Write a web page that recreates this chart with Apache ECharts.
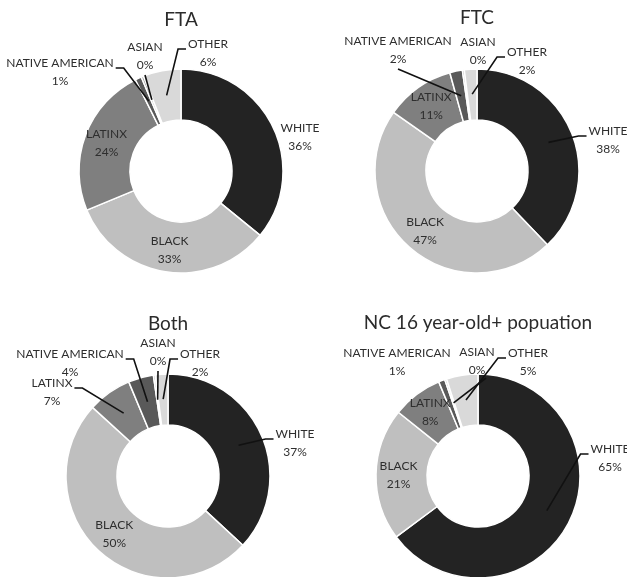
<!DOCTYPE html>
<html>
<head>
<meta charset="utf-8">
<script src="https://cdn.jsdelivr.net/npm/echarts@6.0.0/dist/echarts.min.js"></script>
<style>
  html, body { margin: 0; padding: 0; background: #fff; }
  #chart { width: 627px; height: 577px; }
</style>
</head>
<body>
<div id="chart"></div>
<script>
const groups = ['WHITE', 'BLACK', 'LATINX', 'NATIVE AMERICAN', 'ASIAN', 'OTHER']
const titles = ['FTA', 'FTC', 'Both', 'NC 16 year-old+ popuation']
// shares in %, asian slices are tiny (shown as 0%)
const fta = [36, 33, 24, 1, 0.4, 6]
const ftc = [38, 47, 11, 2, 0.3, 2]
const both = [37, 50, 7, 4, 0.3, 2]
const nc = [65, 21, 8, 1, 0.3, 5]

const sliceColors = ['#232323', '#bfbfbf', '#7f7f7f', '#595959', '#a6a6a6', '#d9d9d9']
const font = 'Lato, "Open Sans", sans-serif'
const innerR = 51, outerR = 102, midR = 77

// label spot per slice: null = inside the ring, else [dx, dy from centre, leader]
// leader: '' none, 'side' elbow from left/right edge, 'b' from bottom, 'br' from bottom right
const pies = [
  { values: fta, center: [181, 171], titleTop: 10,
    spots: [[119, -34, ''], null, null, [-121, -99, 'side'], [-36, -115, 'b'], [27, -118, 'side']] },
  { values: ftc, center: [477, 171], titleTop: 8,
    spots: [[131, -31, 'side'], null, null, [-79, -121, 'b'], [1, -120, ''], [50, -110, 'side']] },
  { values: both, center: [168, 476], titleTop: 314,
    spots: [[127, -33, 'side'], null, [-116, -84, 'side'], [-98, -113, 'side'], [-10, -124, 'b'], [32, -113, 'side']] },
  { values: nc, center: [478, 476], titleTop: 313,
    spots: [[132, -18, 'side'], null, null, [-81, -114, ''], [-1, -115, 'br'], [50, -114, 'side']] }
]

// point in the middle of the ring, at the slice's mid angle (clockwise from top)
function sliceTip(pie, k) {
  const total = pie.values.reduce((a, b) => a + b, 0)
  let before = 0
  for (let i = 0; i < k; i++) before += pie.values[i]
  const a = (before + pie.values[k] / 2) / total * Math.PI * 2
  return [pie.center[0] + Math.sin(a) * midR, pie.center[1] - Math.cos(a) * midR]
}

let leaders = []
function placeLabel(params) {
  const pie = pies[params.seriesIndex]
  const spot = pie.spots[params.dataIndex]
  if (!spot) return {}
  const x = pie.center[0] + spot[0], y = pie.center[1] + spot[1]
  const w = params.labelRect.width, h = params.labelRect.height
  const mode = spot[2]
  if (mode) {
    const tip = sliceTip(pie, params.dataIndex)
    let end, elbow
    if (mode === 'b') {
      end = [x, y + h / 2 + 1]
      elbow = end
    } else if (mode === 'br') {
      end = [x + 9, y + h / 2 - 1]
      elbow = end
    } else if (tip[0] > x) {
      end = [x + w / 2 + 2, y - 4]
      elbow = [end[0] + 8, end[1]]
    } else {
      end = [x - w / 2 - 2, y - 4]
      elbow = [end[0] - 8, end[1]]
    }
    leaders.push([tip, elbow, end])
  }
  return { x: x, y: y, align: 'center', verticalAlign: 'middle' }
}

const chart = echarts.init(document.getElementById('chart'))
chart.setOption({
  animation: false,
  color: sliceColors,
  title: pies.map((p, i) => ({
    text: titles[i],
    left: p.center[0],
    top: p.titleTop,
    padding: 0,
    textAlign: 'center',
    textStyle: { fontFamily: font, fontSize: 19, fontWeight: 'normal', color: '#2b2b2b' }
  })),
  series: pies.map(p => ({
    type: 'pie',
    center: p.center,
    radius: [innerR, outerR],
    startAngle: 90,
    clockwise: true,
    avoidLabelOverlap: false,
    itemStyle: { borderColor: '#fff', borderWidth: 1.5 },
    label: {
      fontFamily: font,
      fontSize: 12,
      lineHeight: 18,
      color: '#2e2e2e',
      formatter: d => d.name + '\n' + Math.round(d.value) + '%'
    },
    labelLine: { show: false },
    labelLayout: placeLabel,
    data: groups.map((g, k) => ({
      name: g,
      value: p.values[k],
      label: { position: p.spots[k] ? 'outside' : 'inside' }
    }))
  }))
})

// leader lines from the labels into the slices, once label sizes are known
const lines = leaders.slice()
chart.setOption({
  graphic: lines.map(pts => ({
    type: 'polyline',
    z: 10,
    shape: { points: pts },
    style: { stroke: '#111', lineWidth: 1.6, fill: null }
  }))
})
</script>
</body>
</html>
